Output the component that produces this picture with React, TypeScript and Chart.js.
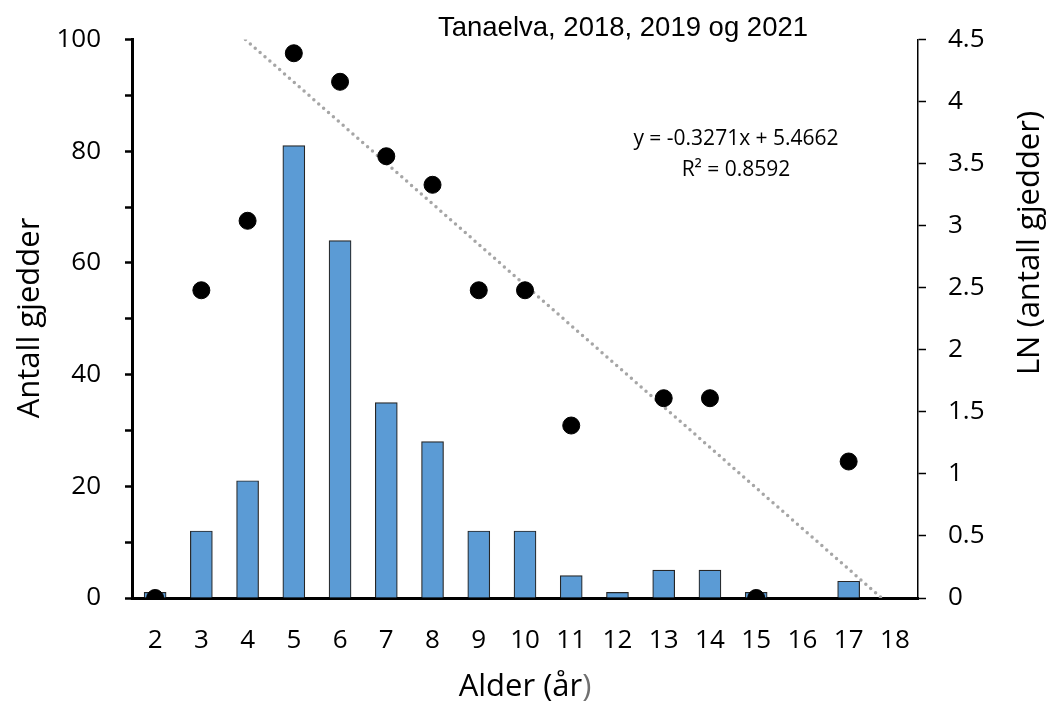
import React, { useEffect, useRef } from "react";
import { Chart, registerables } from "chart.js";

Chart.register(...registerables);

// Age classes (years) and number of pike per age
const ages = [2, 3, 4, 5, 6, 7, 8, 9, 10, 11, 12, 13, 14, 15, 16, 17];
const counts = [1, 12, 21, 81, 64, 35, 28, 12, 12, 4, 1, 5, 5, 1, 0, 3];

// Age tick labels along the x axis
const xTicks = [2, 3, 4, 5, 6, 7, 8, 9, 10, 11, 12, 13, 14, 15, 16, 17, 18];

// Natural log of the counts (right axis)
const lnAges = [2, 3, 4, 5, 6, 7, 8, 9, 10, 11, 13, 14, 15, 17];
const lnValues = [0, 2.48, 3.04, 4.39, 4.16, 3.56, 3.33, 2.48, 2.48, 1.39, 1.61, 1.61, 0, 1.1];

// Linear trend of ln(count); x runs over the age class index (age 2 -> 1)
const trendSlope = -0.3271;
const trendIntercept = 5.4662;
const trendIndexOffset = 1;

const chartTitle = "Tanaelva, 2018, 2019 og 2021";
const equationText = "y = -0.3271x + 5.4662";
const r2Text = "R² = 0.8592";
const leftTitle = "Antall gjedder";
const rightTitle = "LN (antall gjedder)";

const FONT = "'Open Sans', sans-serif";

const annotations = {
  id: "annotations",
  afterDraw(chart: any) {
    const ctx = chart.ctx as CanvasRenderingContext2D;
    const area = chart.chartArea;
    ctx.save();
    ctx.fillStyle = "#000";

    // chart title
    ctx.font = `27.5px 'Liberation Sans', Arial, sans-serif`;
    ctx.textAlign = "center";
    ctx.textBaseline = "middle";
    ctx.fillText(chartTitle, 623, 28);

    // trend equation
    ctx.font = `21px ${FONT}`;
    ctx.fillText(equationText, 736, 139);
    ctx.fillText(r2Text, 736, 170);

    // x axis title, closing parenthesis in grey
    ctx.font = `31px ${FONT}`;
    const main = "Alder (år";
    const close = ")";
    const wMain = ctx.measureText(main).width;
    const wClose = ctx.measureText(close).width;
    const cx = (area.left + area.right) / 2;
    const startX = cx - (wMain + wClose) / 2;
    ctx.textAlign = "left";
    ctx.fillText(main, startX, 687);
    ctx.fillStyle = "#707070";
    ctx.fillText(close, startX + wMain, 687);

    // y axis titles
    ctx.fillStyle = "#000";
    ctx.textAlign = "center";
    ctx.save();
    ctx.translate(30, 318);
    ctx.rotate(-Math.PI / 2);
    ctx.fillText(leftTitle, 0, 0);
    ctx.restore();
    ctx.save();
    ctx.translate(1030, 243);
    ctx.rotate(-Math.PI / 2);
    ctx.fillText(rightTitle, 0, 0);
    ctx.restore();

    ctx.restore();
  },
};

export default function App() {
  const canvasRef = useRef<HTMLCanvasElement | null>(null);

  useEffect(() => {
    if (!canvasRef.current) return;
    Chart.defaults.font.family = FONT;
    Chart.defaults.color = "#000";

    const xAtY = (y: number) => (trendIntercept - y) / -trendSlope + trendIndexOffset;
    const trendData = [
      { x: xAtY(4.5), y: 4.5 },
      { x: xAtY(0), y: 0 },
    ];

    const chart = new Chart(canvasRef.current, {
      type: "bar",
      data: {
        datasets: [
          {
            type: "scatter",
            data: lnAges.map((a, i) => ({ x: a, y: lnValues[i] })),
            yAxisID: "y1",
            backgroundColor: "#000",
            borderColor: "#000",
            pointRadius: 8.5,
            order: 0,
          } as any,
          {
            type: "line",
            data: trendData,
            yAxisID: "y1",
            borderColor: "#A6A6A6",
            borderWidth: 3.5,
            borderDash: [0, 6.5],
            borderCapStyle: "round",
            pointRadius: 0,
            fill: false,
            order: 1,
          } as any,
          {
            type: "bar",
            data: ages.map((a, i) => ({ x: a, y: counts[i] })),
            yAxisID: "y",
            backgroundColor: "#5B9BD5",
            borderColor: "#262626",
            borderWidth: 1.2,
            barThickness: 22,
            order: 2,
          } as any,
        ],
      },
      options: {
        animation: false,
        responsive: false,
        maintainAspectRatio: false,
        layout: { padding: { top: 38, left: 0, right: 0, bottom: 0 } },
        plugins: { legend: { display: false }, tooltip: { enabled: false } },
        scales: {
          x: {
            type: "linear",
            position: "bottom",
            offset: false,
            min: 1.5,
            max: 18.5,
            grid: { drawOnChartArea: false, drawTicks: false },
            border: { display: true, width: 3, color: "#000" },
            afterBuildTicks: (s: any) => {
              s.ticks = xTicks.map((v) => ({ value: v }));
            },
            ticks: {
              autoSkip: false,
              maxRotation: 0,
              minRotation: 0,
              padding: 27,
              font: { size: 26, family: FONT },
              color: "#000",
              callback: (v: any) => String(v),
            },
            afterFit: (s: any) => {
              s.height = 108;
            },
          },
          y: {
            type: "linear",
            position: "left",
            min: 0,
            max: 100,
            grid: {
              drawOnChartArea: false,
              drawTicks: true,
              tickLength: 7,
              tickWidth: 2.5,
              tickColor: "#000",
            },
            border: { display: true, width: 3, color: "#000" },
            ticks: {
              stepSize: 10,
              padding: 24,
              font: { size: 26, family: FONT },
              color: "#000",
              callback: (v: any) => (Number(v) % 20 === 0 ? String(v) : ""),
            },
            afterFit: (s: any) => {
              s.width = 132;
            },
          },
          y1: {
            type: "linear",
            position: "right",
            min: 0,
            max: 4.5,
            grid: {
              drawOnChartArea: false,
              drawTicks: true,
              tickLength: 8,
              tickWidth: 1.5,
              tickColor: "#000",
            },
            border: { display: true, width: 1.5, color: "#000" },
            ticks: {
              stepSize: 0.5,
              padding: 22,
              font: { size: 26, family: FONT },
              color: "#000",
              callback: (v: any) => String(Number(v)),
            },
            afterFit: (s: any) => {
              s.width = 134;
            },
          },
        },
      } as any,
      plugins: [annotations],
    });

    return () => chart.destroy();
  }, []);

  return (
    <div style={{ position: "fixed", left: 0, top: 0, width: 1052, height: 706, background: "#fff" }}>
      <canvas ref={canvasRef} width={1052} height={706} style={{ width: 1052, height: 706 }} />
    </div>
  );
}
